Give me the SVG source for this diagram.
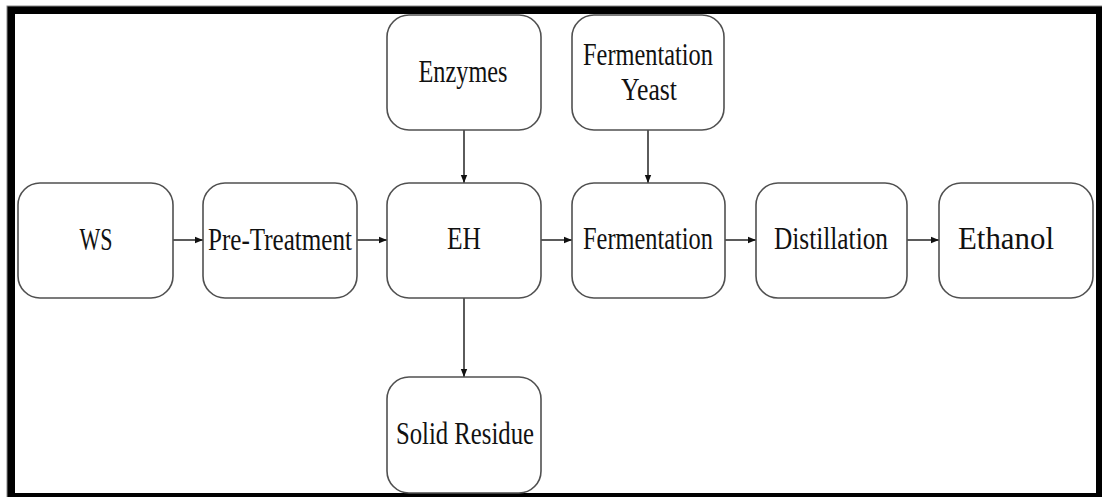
<svg xmlns="http://www.w3.org/2000/svg" width="1102" height="497" viewBox="0 0 1102 497">
<style>
.box{fill:#fff;stroke:#505050;stroke-width:1.6}
.lbl{font-size:32px;fill:#111;text-anchor:middle}
.con{stroke:#333;stroke-width:1.6;fill:none;marker-end:url(#ah)}
</style>
<defs>
<marker id="ah" viewBox="0 0 10 10" refX="10" refY="5" markerWidth="8" markerHeight="8" markerUnits="userSpaceOnUse" orient="auto">
<path d="M0,1 L10,5 L0,9 Z" fill="#111"/>
</marker>
</defs>
<rect x="0" y="0" width="1102" height="497" fill="#fff"/>
<rect x="7" y="6" width="1100" height="500" fill="#000" stroke="#888" stroke-width="1"/>
<rect x="15" y="14" width="1081" height="479" fill="#fff"/>
<g id="connectors">
<line class="con" x1="173" y1="240" x2="203" y2="240"/>
<line class="con" x1="357" y1="240" x2="387" y2="240"/>
<line class="con" x1="541" y1="240" x2="572" y2="240"/>
<line class="con" x1="725" y1="240" x2="756" y2="240"/>
<line class="con" x1="907" y1="240" x2="939" y2="240"/>
<line class="con" x1="464" y1="130" x2="464" y2="183"/>
<line class="con" x1="648" y1="130" x2="648" y2="183"/>
<line class="con" x1="464" y1="298" x2="464" y2="377"/>
</g>
<g font-family="Liberation Serif, Times New Roman, DejaVu Serif, serif">
<g id="ws"><rect class="box" x="18" y="183" width="155" height="115" rx="22"/><text class="lbl" x="96" y="250" textLength="33" lengthAdjust="spacingAndGlyphs">WS</text></g>
<g id="pretreatment"><rect class="box" x="203" y="183" width="154" height="115" rx="22"/><text class="lbl" x="280" y="250" textLength="144" lengthAdjust="spacingAndGlyphs">Pre-Treatment</text></g>
<g id="eh"><rect class="box" x="387" y="183" width="154" height="115" rx="22"/><text class="lbl" x="464" y="249" textLength="34" lengthAdjust="spacingAndGlyphs">EH</text></g>
<g id="fermentation"><rect class="box" x="572" y="183" width="153" height="115" rx="22"/><text class="lbl" x="648" y="249" textLength="130" lengthAdjust="spacingAndGlyphs">Fermentation</text></g>
<g id="distillation"><rect class="box" x="756" y="183" width="151" height="115" rx="22"/><text class="lbl" x="831" y="249" textLength="114" lengthAdjust="spacingAndGlyphs">Distillation</text></g>
<g id="ethanol"><rect class="box" x="939" y="183" width="154" height="115" rx="22"/><text class="lbl" x="1006" y="249" textLength="96" lengthAdjust="spacingAndGlyphs">Ethanol</text></g>
<g id="enzymes"><rect class="box" x="387" y="15" width="154" height="115" rx="22"/><text class="lbl" x="463" y="82" textLength="89" lengthAdjust="spacingAndGlyphs">Enzymes</text></g>
<g id="yeast"><rect class="box" x="572" y="15" width="152" height="115" rx="22"/><text class="lbl" x="648" y="65" textLength="130" lengthAdjust="spacingAndGlyphs">Fermentation</text><text class="lbl" x="649" y="100" textLength="56" lengthAdjust="spacingAndGlyphs">Yeast</text></g>
<g id="solidresidue"><rect class="box" x="387" y="377" width="154" height="116" rx="22"/><text class="lbl" x="465" y="444" textLength="138" lengthAdjust="spacingAndGlyphs">Solid Residue</text></g>
</g>
</svg>
